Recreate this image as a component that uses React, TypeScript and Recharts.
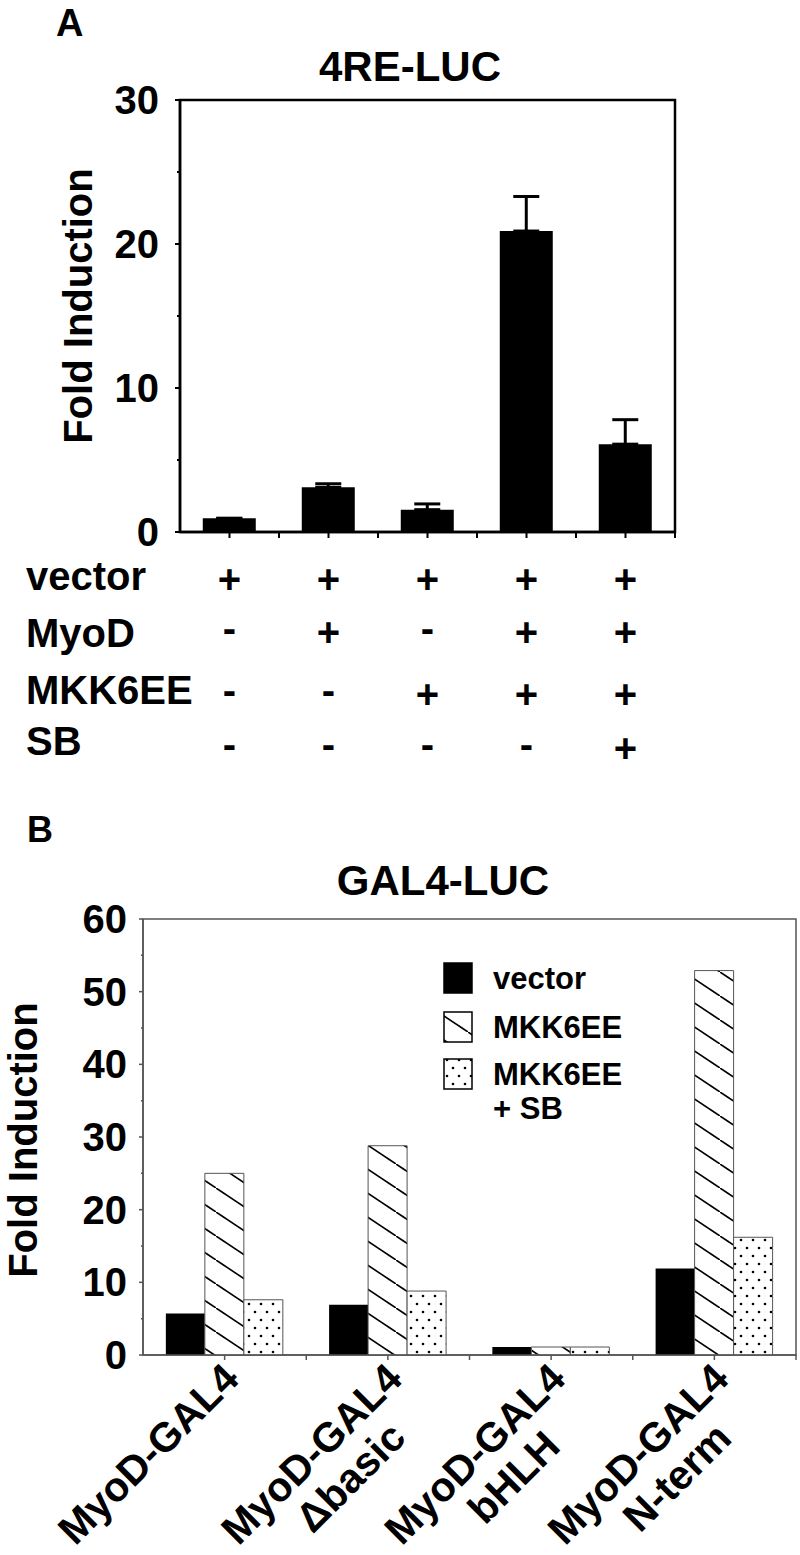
import React from 'react';
import { BarChart, Bar, XAxis, YAxis, ErrorBar, ReferenceArea } from 'recharts';

const FONT = '"Liberation Sans", Arial, Helvetica, sans-serif';

// panel A: 4RE-LUC reporter
const lanesA = ['1', '2', '3', '4', '5'];
const foldA = [0.95, 3.1, 1.55, 20.9, 6.1];
const errA = [0, 0.25, 0.4, 2.4, 1.7];
const rowLabelsA = ['vector', 'MyoD', 'MKK6EE', 'SB'];
const vectorSigns = ['+', '+', '+', '+', '+'];
const myodSigns = ['-', '+', '-', '+', '+'];
const mkkSigns = ['-', '-', '+', '+', '+'];
const sbSigns = ['-', '-', '-', '-', '+'];
const ticksA = [0, 5, 10, 15, 20, 25, 30];

// panel B: GAL4-LUC reporter
const constructs = ['MyoD-GAL4', 'MyoD-GAL4', 'MyoD-GAL4', 'MyoD-GAL4'];
const constructSub = ['', 'Δbasic', 'bHLH', 'N-term'];
const vectorB = [5.7, 6.9, 1.1, 11.9];
const mkkB = [25, 28.8, 1.1, 52.9];
const mkkSbB = [7.6, 8.8, 1.1, 16.2];
const ticksB = [0, 5, 10, 15, 20, 25, 30, 35, 40, 45, 50, 55, 60];
const legendB = [['vector'], ['MKK6EE'], ['MKK6EE', '+ SB']];

const dataA = lanesA.map((name, i) => ({ name, fold: foldA[i], err: [0, errA[i]] }));
const dataB = constructs.map((name, i) => ({
  name: name + i,
  vector: vectorB[i],
  mkk: mkkB[i],
  mkksb: mkkSbB[i],
}));

const signRows = [vectorSigns, myodSigns, mkkSigns, sbSigns];
const rowOffsets = [47, 100, 162, 216];

// layout
const A_LEFT = 180;
const A_RIGHT = 675;
const A_TOP = 100;
const A_BOTTOM = 532;
const A_H = 780;
const B_TOP_PAGE = 780;
const B_H = 775;
const B_LEFT = 143;
const B_RIGHT = 796;
const B_TOP = 139;
const B_BOTTOM = 575;

const txt = { fontFamily: FONT, fontWeight: 700, fill: '#000' } as const;

const SignTick = (props: any) => {
  const { x, payload } = props;
  const i = payload.index;
  const band = (A_RIGHT - A_LEFT) / lanesA.length;
  return (
    <g>
      <line x1={x} x2={x} y1={A_BOTTOM} y2={A_BOTTOM + 6} stroke="#000" strokeWidth={2} />
      <line x1={x + band / 2} x2={x + band / 2} y1={A_BOTTOM} y2={A_BOTTOM + 6} stroke="#000" strokeWidth={2} />
      {signRows.map((row, r) => (
        <text
          key={r}
          x={x}
          y={A_BOTTOM + rowOffsets[r] + (row[i] === '+' ? 14 : 10)}
          textAnchor="middle"
          fontSize={40}
          {...txt}
        >
          {row[i]}
        </text>
      ))}
    </g>
  );
};

const YTickA = (props: any) => {
  const { y, payload } = props;
  const major = payload.value % 10 === 0;
  return (
    <g>
      <line x1={A_LEFT - (major ? 5 : 3)} x2={A_LEFT} y1={y} y2={y} stroke="#000" strokeWidth={2} />
      {major && (
        <text x={159} y={y + 14} textAnchor="end" fontSize={40} {...txt}>
          {payload.value}
        </text>
      )}
    </g>
  );
};

const YTickB = (props: any) => {
  const { y, payload } = props;
  const major = payload.value % 10 === 0;
  return (
    <g>
      <line x1={B_LEFT - (major ? 4 : 2)} x2={B_LEFT} y1={y} y2={y} stroke="#555" strokeWidth={1.5} />
      {major && (
        <text x={127} y={y + 14} textAnchor="end" fontSize={40} {...txt}>
          {payload.value}
        </text>
      )}
    </g>
  );
};

const GroupTick = (props: any) => {
  const { x, payload } = props;
  const i = payload.index;
  const band = (B_RIGHT - B_LEFT) / constructs.length;
  return (
    <g>
      <line x1={x} x2={x} y1={B_BOTTOM} y2={B_BOTTOM + 5} stroke="#555" strokeWidth={1.5} />
      <line x1={x + band / 2} x2={x + band / 2} y1={B_BOTTOM} y2={B_BOTTOM + 5} stroke="#555" strokeWidth={1.5} />
      <g transform={`translate(${x},${B_BOTTOM}) rotate(-45)`}>
        <text x={-124} y={30} textAnchor="middle" fontSize={41} {...txt}>
          {constructs[i]}
        </text>
        {constructSub[i] && (
          <text x={-113} y={74} textAnchor="middle" fontSize={41} {...txt}>
            {constructSub[i]}
          </text>
        )}
      </g>
    </g>
  );
};

const Patterns = ({ prefix }: { prefix: string }) => (
  <defs>
    <pattern id={prefix + 'hatch'} patternUnits="userSpaceOnUse" width={36} height={24}>
      <rect width={36} height={24} fill="#fff" />
      <path d="M-9,-6 L45,30 M-45,-30 L9,6 M27,18 L81,54" stroke="#000" strokeWidth={1.6} />
    </pattern>
    <pattern id={prefix + 'dots'} patternUnits="userSpaceOnUse" width={12} height={16}>
      <rect width={12} height={16} fill="#fff" />
      <circle cx={3} cy={4} r={1.3} fill="#000" />
      <circle cx={9} cy={12} r={1.3} fill="#000" />
    </pattern>
  </defs>
);

const legendFills = ['#000', 'url(#lghatch)', 'url(#lgdots)'];
const legendTops = [963, 1012, 1059];

export default function App() {
  return (
    <div style={{ position: 'absolute', left: 0, top: 0, width: 800, height: 1555, background: '#fff' }}>
      <div style={{ position: 'absolute', left: 0, top: 0 }}>
        <BarChart
          width={800}
          height={A_H}
          data={dataA}
          margin={{ top: A_TOP, right: 800 - A_RIGHT, bottom: 0, left: 0 }}
          barCategoryGap="23%"
        >
          <XAxis
            dataKey="name"
            height={A_H - A_BOTTOM}
            axisLine={{ stroke: '#000', strokeWidth: 2.5 }}
            tickLine={false}
            tickSize={0}
            interval={0}
            tick={<SignTick />}
          />
          <YAxis
            width={A_LEFT}
            domain={[0, 30]}
            ticks={ticksA}
            interval={0}
            axisLine={{ stroke: '#000', strokeWidth: 2.5 }}
            tickLine={false}
            tick={<YTickA />}
          />
          <ReferenceArea y1={0} y2={30} fill="none" stroke="#000" strokeWidth={2.5} ifOverflow="visible" />
          <Bar dataKey="fold" fill="#000" isAnimationActive={false}>
            <ErrorBar dataKey="err" width={13} stroke="#000" strokeWidth={3} direction="y" isAnimationActive={false} />
          </Bar>
        </BarChart>
      </div>

      <div style={{ position: 'absolute', left: 0, top: B_TOP_PAGE }}>
        <BarChart
          width={800}
          height={B_H}
          data={dataB}
          margin={{ top: B_TOP, right: 800 - B_RIGHT, bottom: 0, left: 0 }}
          barCategoryGap="14%"
          barGap={0}
        >
          <Patterns prefix="b" />
          <XAxis
            dataKey="name"
            height={B_H - B_BOTTOM}
            axisLine={{ stroke: '#555', strokeWidth: 1.5 }}
            tickLine={false}
            tickSize={0}
            interval={0}
            tick={<GroupTick />}
          />
          <YAxis
            width={B_LEFT}
            domain={[0, 60]}
            ticks={ticksB}
            interval={0}
            axisLine={{ stroke: '#555', strokeWidth: 1.5 }}
            tickLine={false}
            tick={<YTickB />}
          />
          <ReferenceArea y1={0} y2={60} fill="none" stroke="#555" strokeWidth={1.5} ifOverflow="visible" />
          <Bar dataKey="vector" fill="#000" isAnimationActive={false} />
          <Bar dataKey="mkk" fill="url(#bhatch)" stroke="#555" strokeWidth={1} isAnimationActive={false} />
          <Bar dataKey="mkksb" fill="url(#bdots)" stroke="#555" strokeWidth={1} isAnimationActive={false} />
        </BarChart>
      </div>

      <svg width={800} height={1555} style={{ position: 'absolute', left: 0, top: 0, pointerEvents: 'none' }}>
        <Patterns prefix="lg" />
        <text x={56} y={36} fontSize={38} {...txt}>A</text>
        <text x={410} y={81} textAnchor="middle" fontSize={42} {...txt}>4RE-LUC</text>
        <text transform="translate(92,306) rotate(-90)" textAnchor="middle" fontSize={40} {...txt}>
          Fold Induction
        </text>
        {rowLabelsA.map((r, k) => (
          <text key={r} x={26} y={[590, 647, 704, 755][k]} fontSize={40} {...txt}>
            {r}
          </text>
        ))}
        <text x={27} y={842} fontSize={36} {...txt}>B</text>
        <text x={443} y={895} textAnchor="middle" fontSize={42} {...txt}>GAL4-LUC</text>
        <text transform="translate(37,1140) rotate(-90)" textAnchor="middle" fontSize={40} {...txt}>
          Fold Induction
        </text>
        {legendB.map((lines, k) => (
          <g key={k}>
            <rect x={444} y={legendTops[k]} width={28} height={30} fill={legendFills[k]} stroke="#000" strokeWidth={1.5} />
            {lines.map((l, j) => (
              <text key={j} x={493} y={legendTops[k] + 26 + j * 34} fontSize={31} {...txt}>
                {l}
              </text>
            ))}
          </g>
        ))}
      </svg>
    </div>
  );
}
